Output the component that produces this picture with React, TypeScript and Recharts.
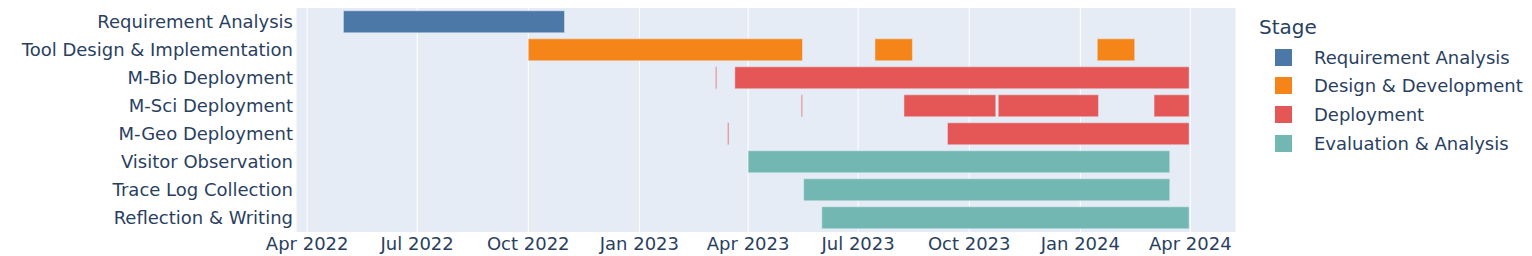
import { ComposedChart, Bar, XAxis, YAxis, CartesianGrid, Cell } from "recharts";

const tasks = [
  "Requirement Analysis",
  "Tool Design & Implementation",
  "M-Bio Deployment",
  "M-Sci Deployment",
  "M-Geo Deployment",
  "Visitor Observation",
  "Trace Log Collection",
  "Reflection & Writing",
];

const stages = [
  "Requirement Analysis",
  "Design & Development",
  "Deployment",
  "Evaluation & Analysis",
];

const stageColors = ["#4C78A8", "#F58518", "#E45756", "#72B7B2"];

// stage index for each task row
const taskStage = [0, 1, 2, 2, 2, 3, 3, 3];

// one entry per bar segment
const segTask = [0, 1, 1, 1, 2, 2, 3, 3, 3, 3, 4, 4, 5, 6, 7];
const segStart = [
  "2022-05-01",
  "2022-10-01", "2023-07-15", "2024-01-15",
  "2023-03-05", "2023-03-21",
  "2023-05-15", "2023-08-08", "2023-10-25", "2024-03-02",
  "2023-03-15", "2023-09-13",
  "2023-04-01",
  "2023-05-17",
  "2023-06-01",
];
const segEnd = [
  "2022-10-31",
  "2023-05-16", "2023-08-15", "2024-02-15",
  "2023-03-06", "2024-03-31",
  "2023-05-16", "2023-10-23", "2024-01-16", "2024-03-31",
  "2023-03-16", "2024-03-31",
  "2024-03-15",
  "2024-03-15",
  "2024-03-31",
];

const tickDates = [
  "2022-04-01",
  "2022-07-01",
  "2022-10-01",
  "2023-01-01",
  "2023-04-01",
  "2023-07-01",
  "2023-10-01",
  "2024-01-01",
  "2024-04-01",
];

const MONTHS = ["Jan", "Feb", "Mar", "Apr", "May", "Jun", "Jul", "Aug", "Sep", "Oct", "Nov", "Dec"];
const TEXT = "#2a3f5f";
const FONT = "'DejaVu Sans', Verdana, sans-serif";

// build rows: s0..s3 hold [start, end] for each segment of a task
const maxSegs = 4;
const rows = tasks.map((task, t) => {
  const row: any = { task };
  let k = 0;
  segTask.forEach((st, i) => {
    if (st === t) {
      row[`s${k}`] = [Date.parse(segStart[i]), Date.parse(segEnd[i])];
      k++;
    }
  });
  return row;
});

const ticks = tickDates.map((d) => Date.parse(d));
const domain = [Date.parse("2022-03-22T18:00:00Z"), Date.parse("2024-05-08T20:00:00Z")];

const fmt = (v: number) => {
  const d = new Date(v);
  return `${MONTHS[d.getUTCMonth()]} ${d.getUTCFullYear()}`;
};

export default function App() {
  return (
    <div style={{ position: "relative", width: 1524, height: 248, fontFamily: FONT }}>
      <ComposedChart
        width={1524}
        height={248}
        data={rows}
        layout="vertical"
        margin={{ top: 0, right: 296, bottom: 0, left: 0 }}
        barCategoryGap="10%"
      >
        <CartesianGrid horizontal={false} stroke="#ffffff" strokeWidth={1} fill="#E5ECF6" />
        <XAxis
          type="number"
          domain={domain}
          ticks={ticks}
          allowDataOverflow
          tickFormatter={fmt}
          axisLine={false}
          tickLine={false}
          tickSize={0}
          tickMargin={5}
          height={24}
          tick={{ fill: TEXT, fontSize: 18, fontFamily: FONT }}
        />
        {Array.from({ length: maxSegs }).map((_, i) => (
          <YAxis
            key={`y${i}`}
            yAxisId={`s${i}`}
            type="category"
            dataKey="task"
            hide={i > 0}
            width={288}
            axisLine={false}
            tickLine={false}
            tickSize={0}
            tickMargin={3}
            interval={0}
            tick={{ fill: TEXT, fontSize: 18, fontFamily: FONT }}
          />
        ))}
        {Array.from({ length: maxSegs }).map((_, i) => (
          <Bar
            key={`b${i}`}
            yAxisId={`s${i}`}
            dataKey={`s${i}`}
            isAnimationActive={false}
            stroke="#E5ECF6"
            strokeWidth={0.5}
          >
            {rows.map((_r, t) => (
              <Cell key={`c${t}`} fill={stageColors[taskStage[t]]} />
            ))}
          </Bar>
        ))}
      </ComposedChart>
      <div style={{ position: "absolute", left: 1251, top: 6, color: TEXT, fontSize: 20, lineHeight: "26px" }}>
        Stage
      </div>
      {stages.map((s, i) => (
        <div
          key={s}
          style={{
            position: "absolute",
            left: 1267,
            top: 36 + i * 28.67,
            height: 26,
            display: "flex",
            alignItems: "center",
            color: TEXT,
            fontSize: 18,
            whiteSpace: "nowrap",
          }}
        >
          <span
            style={{
              display: "inline-block",
              width: 17,
              height: 17,
              background: stageColors[i],
              marginRight: 22,
            }}
          />
          {s}
        </div>
      ))}
    </div>
  );
}
